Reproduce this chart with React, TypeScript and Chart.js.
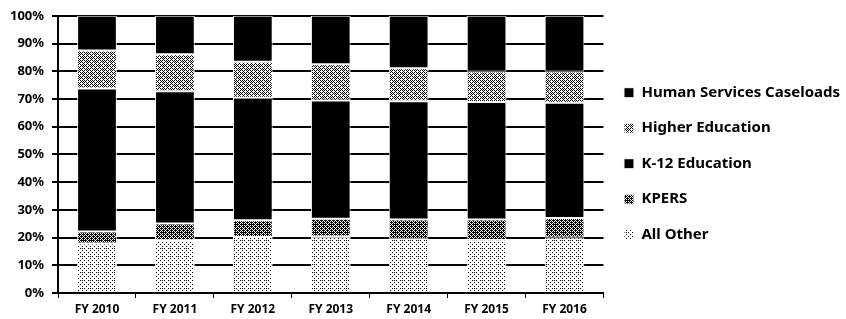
import React, { useEffect, useRef } from "react";
import { Chart, registerables } from "chart.js";

Chart.register(...registerables);

const categories = ["FY 2010", "FY 2011", "FY 2012", "FY 2013", "FY 2014", "FY 2015", "FY 2016"];
const allOther = [17.9, 19.0, 20.2, 20.4, 19.6, 19.2, 20.0];
const kpers = [4.3, 6.1, 6.0, 6.4, 6.9, 7.3, 7.1];
const k12 = [51.6, 47.7, 44.2, 42.6, 42.7, 42.4, 41.5];
const higherEd = [13.7, 13.3, 13.0, 13.1, 11.9, 11.0, 11.3];
const humanServices = [12.5, 13.9, 16.6, 17.5, 18.9, 20.1, 20.1];
const yTicks = [0, 10, 20, 30, 40, 50, 60, 70, 80, 90, 100];

const BAYER = [
  [0, 32, 8, 40, 2, 34, 10, 42],
  [48, 16, 56, 24, 50, 18, 58, 26],
  [12, 44, 4, 36, 14, 46, 6, 38],
  [60, 28, 52, 20, 62, 30, 54, 22],
  [3, 35, 11, 43, 1, 33, 9, 41],
  [51, 19, 59, 27, 49, 17, 57, 25],
  [15, 47, 7, 39, 13, 45, 5, 37],
  [63, 31, 55, 23, 61, 29, 53, 21],
];

function stipple(density: number): CanvasPattern | string {
  const c = document.createElement("canvas");
  c.width = 8;
  c.height = 8;
  const ctx = c.getContext("2d");
  if (!ctx) return "#888";
  ctx.fillStyle = "#ffffff";
  ctx.fillRect(0, 0, 8, 8);
  ctx.fillStyle = "#000000";
  for (let y = 0; y < 8; y++) {
    for (let x = 0; x < 8; x++) {
      if ((BAYER[y][x] + 0.5) / 64 < density) ctx.fillRect(x, y, 1, 1);
    }
  }
  return ctx.createPattern(c, "repeat") || "#888";
}

export default function App() {
  const ref = useRef<HTMLCanvasElement | null>(null);

  useEffect(() => {
    if (!ref.current) return;
    const light = stipple(0.14);
    const medium = stipple(0.4);
    const dark = stipple(0.64);
    const common = {
      borderColor: "#ffffff",
      borderWidth: 1,
      borderSkipped: false as const,
      categoryPercentage: 1,
      barPercentage: 0.51,
    };
    const chart = new Chart(ref.current, {
      type: "bar",
      data: {
        labels: categories,
        datasets: [
          { label: "All Other", data: allOther, backgroundColor: light, ...common },
          { label: "KPERS", data: kpers, backgroundColor: dark, ...common },
          { label: "K-12 Education", data: k12, backgroundColor: "#000000", ...common },
          { label: "Higher Education", data: higherEd, backgroundColor: medium, ...common },
          { label: "Human Services Caseloads", data: humanServices, backgroundColor: "#000000", ...common },
        ],
      },
      options: {
        animation: false,
        responsive: false,
        maintainAspectRatio: false,
        layout: { padding: { left: 2, top: 6, right: -4, bottom: -2.4 } },
        plugins: {
          tooltip: { enabled: false },
          legend: {
            position: "right",
            reverse: true,
            maxWidth: 260,
            labels: {
              boxWidth: 10,
              boxHeight: 10,
              padding: 20.5,
              color: "#000000",
              font: { family: "Noto Sans", size: 15, weight: "bold" },
            },
          },
        },
        scales: {
          x: {
            stacked: true,
            offset: true,
            grid: {
              offset: true,
              drawOnChartArea: false,
              drawTicks: true,
              tickLength: 5,
              color: "#000000",
              lineWidth: 1,
            },
            border: { display: true, color: "#000000", width: 2 },
            ticks: {
              color: "#000000",
              padding: 4.5,
              font: { family: "Noto Sans", size: 12, weight: "bold" },
            },
          },
          y: {
            stacked: true,
            min: 0,
            max: 100,
            afterBuildTicks: (axis: any) => {
              axis.ticks = yTicks.map((v) => ({ value: v }));
            },
            grid: {
              color: "#000000",
              lineWidth: 2,
              drawTicks: true,
              tickLength: 6,
            },
            border: { display: true, color: "#000000", width: 2 },
            ticks: {
              color: "#000000",
              padding: 8,
              callback: (v: any) => `${v}%`,
              font: { family: "Noto Sans", size: 13, weight: "bold" },
            },
          },
        },
      },
    });
    return () => chart.destroy();
  }, []);

  return (
    <div style={{ position: "absolute", left: 0, top: 0, width: 846, height: 319, background: "#fff", overflow: "hidden" }}>
      <canvas ref={ref} width={846} height={319} style={{ display: "block", width: 846, height: 319 }} />
    </div>
  );
}
